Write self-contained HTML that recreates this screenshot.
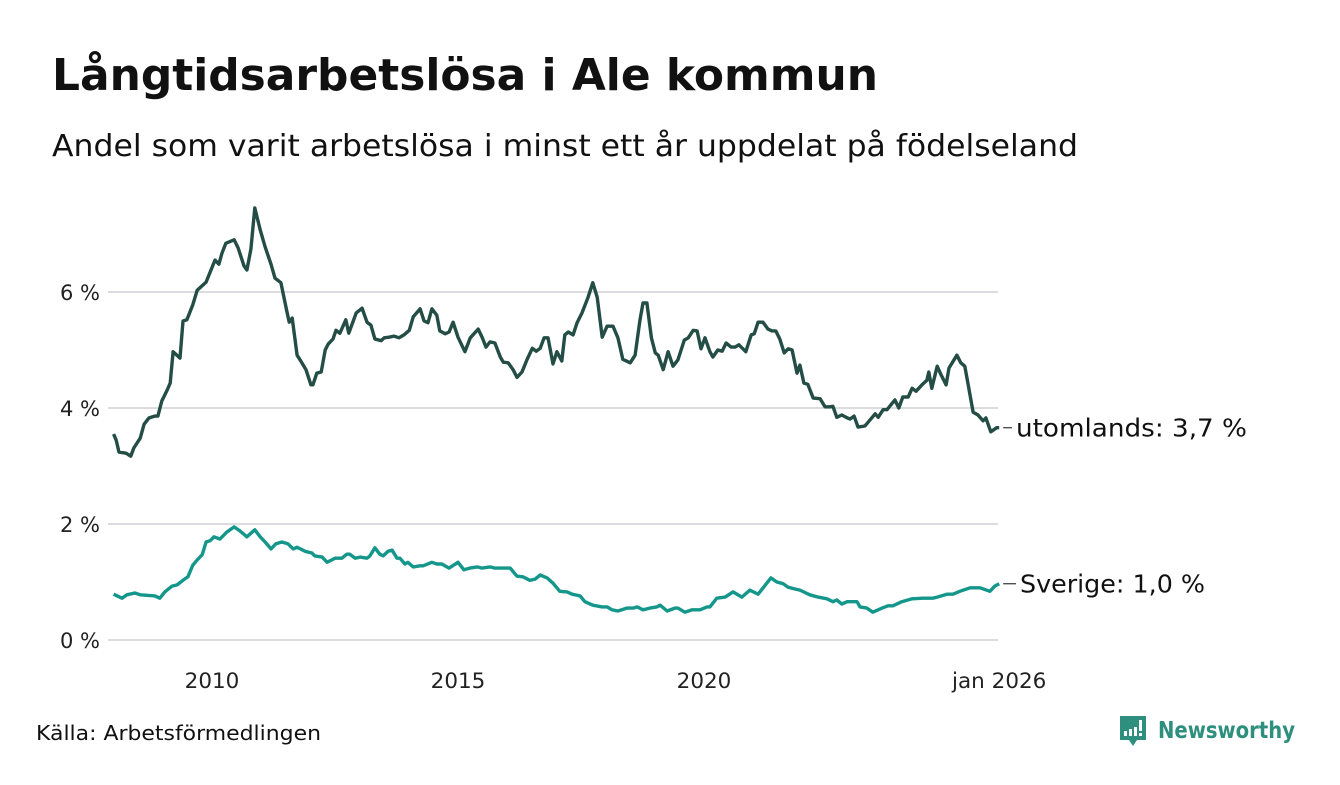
<!DOCTYPE html>
<html><head><meta charset="utf-8">
<style>
body{margin:0;background:#fff;width:1340px;height:780px;overflow:hidden;font-family:"Liberation Sans","DejaVu Sans",sans-serif;}
svg text{font-family:"DejaVu Sans","Liberation Sans",sans-serif;}
</style></head>
<body>
<svg id="chart" width="1340" height="780" viewBox="0 0 1340 780">
<text x="52" y="90" font-size="44" font-weight="bold" fill="#111" textLength="826" lengthAdjust="spacingAndGlyphs">Långtidsarbetslösa i Ale kommun</text>
<text x="52" y="156" font-size="30" fill="#111" textLength="1026" lengthAdjust="spacingAndGlyphs">Andel som varit arbetslösa i minst ett år uppdelat på födelseland</text>
<g id="grid"></g>
<g id="yaxis"></g>
<g id="xaxis"></g>
<g id="series"></g>
<text x="36" y="740" font-size="20" fill="#111" textLength="285" lengthAdjust="spacingAndGlyphs">Källa: Arbetsförmedlingen</text>
<g>
<path d="M1120 716 h26 v24 h-9 l-4 6 l-4 -6 h-9 z" fill="#2f8f7f"/>
<rect x="1124" y="731" width="3" height="5" fill="#fff"/>
<rect x="1129" y="729" width="3" height="7" fill="#fff"/>
<rect x="1134" y="727" width="3" height="9" fill="#fff"/>
<rect x="1139" y="720" width="3" height="11" fill="#fff"/>
<rect x="1139" y="733" width="3" height="3" fill="#fff"/>
<text x="1158" y="738" font-size="23" font-weight="bold" fill="#2f8f7f" textLength="137" lengthAdjust="spacingAndGlyphs">Newsworthy</text>
</g>
</svg>
<script>
const yTicks=[0,2,4,6];
const yTickLabels=["0 %","2 %","4 %","6 %"];
const xTicks=[2010,2015,2020,2026];
const xTickLabels=["2010","2015","2020","jan 2026"];
const utomDates=[2008.00,2008.05,2008.11,2008.25,2008.35,2008.41,2008.54,2008.62,2008.72,2008.84,2008.90,2008.98,2009.09,2009.15,2009.21,2009.35,2009.41,2009.49,2009.61,2009.70,2009.88,2009.98,2010.06,2010.14,2010.20,2010.28,2010.45,2010.53,2010.65,2010.71,2010.79,2010.87,2010.98,2011.08,2011.20,2011.28,2011.40,2011.52,2011.57,2011.63,2011.73,2011.79,2011.91,2012.01,2012.05,2012.13,2012.22,2012.30,2012.36,2012.46,2012.52,2012.60,2012.72,2012.78,2012.93,2013.05,2013.15,2013.23,2013.31,2013.44,2013.50,2013.60,2013.70,2013.80,2013.90,2014.01,2014.09,2014.23,2014.31,2014.39,2014.47,2014.57,2014.63,2014.74,2014.82,2014.90,2015.00,2015.14,2015.25,2015.41,2015.49,2015.57,2015.65,2015.75,2015.86,2015.92,2016.02,2016.12,2016.20,2016.30,2016.40,2016.51,2016.59,2016.67,2016.75,2016.83,2016.93,2017.01,2017.11,2017.17,2017.24,2017.34,2017.42,2017.52,2017.64,2017.74,2017.83,2017.93,2018.03,2018.15,2018.25,2018.35,2018.50,2018.60,2018.70,2018.76,2018.84,2018.93,2019.01,2019.07,2019.17,2019.27,2019.37,2019.47,2019.60,2019.68,2019.78,2019.86,2019.94,2020.02,2020.12,2020.18,2020.28,2020.37,2020.45,2020.55,2020.63,2020.71,2020.85,2020.96,2021.02,2021.10,2021.20,2021.30,2021.38,2021.46,2021.54,2021.63,2021.71,2021.79,2021.89,2021.95,2022.03,2022.11,2022.22,2022.36,2022.46,2022.56,2022.62,2022.70,2022.80,2022.91,2022.97,2023.05,2023.13,2023.27,2023.37,2023.48,2023.54,2023.64,2023.72,2023.88,2023.96,2024.04,2024.15,2024.23,2024.31,2024.43,2024.53,2024.57,2024.63,2024.74,2024.82,2024.92,2024.98,2025.14,2025.22,2025.30,2025.37,2025.47,2025.57,2025.67,2025.73,2025.83,2025.95,2026.00];
const utomValues=[3.55,3.45,3.24,3.22,3.17,3.31,3.48,3.72,3.83,3.86,3.86,4.12,4.31,4.43,4.97,4.86,5.50,5.52,5.78,6.03,6.17,6.38,6.55,6.48,6.66,6.84,6.90,6.76,6.45,6.38,6.74,7.45,7.07,6.78,6.48,6.24,6.16,5.67,5.48,5.55,4.91,4.83,4.66,4.40,4.40,4.60,4.62,5.00,5.10,5.19,5.34,5.29,5.52,5.29,5.64,5.72,5.48,5.43,5.19,5.16,5.21,5.22,5.24,5.21,5.26,5.34,5.57,5.71,5.50,5.47,5.71,5.60,5.33,5.28,5.31,5.48,5.22,4.97,5.21,5.36,5.22,5.05,5.14,5.12,4.88,4.79,4.78,4.66,4.53,4.62,4.83,5.03,4.98,5.03,5.21,5.21,4.76,4.97,4.81,5.26,5.31,5.26,5.47,5.64,5.90,6.16,5.91,5.22,5.41,5.41,5.21,4.84,4.78,4.91,5.52,5.81,5.81,5.21,4.95,4.91,4.66,4.97,4.72,4.83,5.17,5.21,5.34,5.33,5.02,5.21,4.97,4.88,5.00,4.98,5.12,5.05,5.05,5.09,4.97,5.26,5.28,5.48,5.48,5.36,5.33,5.33,5.19,4.95,5.02,5.00,4.60,4.74,4.43,4.41,4.17,4.16,4.02,4.02,4.03,3.84,3.88,3.83,3.81,3.86,3.67,3.69,3.79,3.90,3.84,3.97,3.97,4.14,4.00,4.19,4.19,4.34,4.29,4.40,4.48,4.62,4.34,4.72,4.57,4.40,4.69,4.91,4.78,4.72,4.40,3.93,3.88,3.78,3.83,3.59,3.66,3.66];
const sveDates=[2008.00,2008.17,2008.27,2008.43,2008.54,2008.84,2008.94,2009.04,2009.19,2009.29,2009.41,2009.51,2009.61,2009.70,2009.80,2009.88,2009.96,2010.04,2010.16,2010.30,2010.45,2010.57,2010.71,2010.87,2010.98,2011.08,2011.20,2011.30,2011.42,2011.54,2011.65,2011.73,2011.89,2012.03,2012.09,2012.24,2012.34,2012.50,2012.64,2012.74,2012.80,2012.91,2013.01,2013.15,2013.21,2013.31,2013.41,2013.48,2013.58,2013.66,2013.76,2013.82,2013.92,2013.98,2014.09,2014.23,2014.29,2014.47,2014.57,2014.67,2014.82,2015.00,2015.12,2015.24,2015.39,2015.49,2015.65,2015.75,2016.06,2016.20,2016.32,2016.46,2016.57,2016.67,2016.81,2016.93,2017.07,2017.22,2017.32,2017.48,2017.58,2017.74,2017.93,2018.03,2018.13,2018.25,2018.43,2018.56,2018.64,2018.76,2018.90,2019.04,2019.11,2019.25,2019.41,2019.47,2019.61,2019.76,2019.92,2020.06,2020.12,2020.26,2020.43,2020.59,2020.77,2020.93,2021.10,2021.36,2021.48,2021.61,2021.71,2021.85,2021.95,2022.15,2022.32,2022.50,2022.62,2022.70,2022.80,2022.91,2023.11,2023.17,2023.31,2023.43,2023.62,2023.74,2023.84,2024.02,2024.23,2024.45,2024.65,2024.74,2024.94,2025.06,2025.20,2025.41,2025.61,2025.81,2025.91,2026.00];
const sveValues=[0.79,0.72,0.78,0.81,0.78,0.76,0.72,0.83,0.93,0.95,1.03,1.09,1.29,1.38,1.47,1.69,1.71,1.78,1.74,1.86,1.95,1.88,1.78,1.90,1.78,1.69,1.57,1.66,1.69,1.66,1.57,1.60,1.53,1.50,1.45,1.43,1.34,1.41,1.41,1.48,1.48,1.41,1.43,1.41,1.45,1.59,1.48,1.45,1.53,1.55,1.41,1.41,1.31,1.34,1.26,1.28,1.28,1.34,1.31,1.31,1.24,1.34,1.21,1.24,1.26,1.24,1.26,1.24,1.24,1.10,1.09,1.03,1.05,1.12,1.07,0.98,0.84,0.83,0.79,0.76,0.66,0.60,0.57,0.57,0.52,0.50,0.55,0.55,0.57,0.52,0.55,0.57,0.60,0.50,0.55,0.55,0.48,0.52,0.52,0.57,0.57,0.72,0.74,0.83,0.74,0.86,0.79,1.07,1.00,0.97,0.91,0.88,0.86,0.78,0.74,0.71,0.66,0.69,0.62,0.66,0.66,0.57,0.55,0.48,0.55,0.59,0.59,0.66,0.71,0.72,0.72,0.74,0.79,0.79,0.84,0.90,0.90,0.84,0.93,0.97];
const seriesLabels=["utomlands: 3,7 %","Sverige: 1,0 %"];

const NS="http://www.w3.org/2000/svg";
function xs(t){return 212+(t-2010)*49.2;}
function ys(v){return 640-v*58;}
function mk(tag,attrs,parent){const e=document.createElementNS(NS,tag);for(const k in attrs)e.setAttribute(k,attrs[k]);parent.appendChild(e);return e;}
const grid=document.getElementById('grid'),yax=document.getElementById('yaxis'),xax=document.getElementById('xaxis'),ser=document.getElementById('series');
yTicks.forEach((v,i)=>{
  const l=mk('line',{x1:108,x2:998,y1:ys(v),y2:ys(v),stroke:'#dcdce0','stroke-width':2},grid);
  
  
  const t=mk('text',{x:100,y:ys(v)+8,'text-anchor':'end','font-size':21,fill:'#222'},yax);
  t.textContent=yTickLabels[i];
  
  
});
xTicks.forEach((v,i)=>{
  const t=mk('text',{x:xs(v),y:688,'text-anchor':'middle','font-size':21.5,fill:'#222'},xax);
  t.textContent=xTickLabels[i];
  
  
});
function line(d,v,color,name){
  const p=d.map((t,i)=>(i?'L':'M')+xs(t).toFixed(1)+' '+ys(v[i]).toFixed(1)).join(' ');
  const e=mk('path',{d:p,fill:'none',stroke:color,'stroke-width':3.4,'stroke-linejoin':'round'},ser);
  
  
}
line(utomDates,utomValues,'#234d45','line-utomlands');
line(sveDates,sveValues,'#14978a','line-sverige');
const ends=[[utomDates,utomValues,1016,231],[sveDates,sveValues,1020,185]];
ends.forEach((e,i)=>{
  const d=e[0],v=e[1];const y=ys(v[v.length-1]);
  const l=mk('line',{x1:xs(d[d.length-1])+4,x2:e[2]-4,y1:y,y2:y,stroke:'#333','stroke-width':1.2},ser);
  
  
  const t=mk('text',{x:e[2],y:y+9,'font-size':25,fill:'#111',textLength:e[3],lengthAdjust:'spacingAndGlyphs'},ser);
  t.textContent=seriesLabels[i];
  
  
});
</script>
</body></html>
